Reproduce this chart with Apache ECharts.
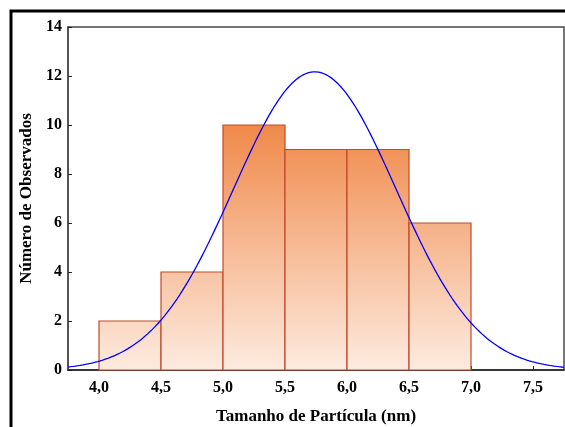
<!DOCTYPE html>
<html>
<head>
<meta charset="utf-8">
<script src="https://cdn.jsdelivr.net/npm/echarts@6/dist/echarts.min.js"></script>
<style>
  html, body { margin: 0; padding: 0; background: #fff; }
  #chart { width: 565px; height: 427px; }
</style>
</head>
<body>
<div id="chart"></div>
<script>
// Histogram bins (particle size, nm) and observed counts
const binStarts = [4.0, 4.5, 5.0, 5.5, 6.0, 6.5];
const binWidth = 0.5;
const counts = [2, 4, 10, 9, 9, 6];

// Axis ticks
const xTicks = [4.0, 4.5, 5.0, 5.5, 6.0, 6.5, 7.0, 7.5];
const yTicks = [0, 2, 4, 6, 8, 10, 12, 14];

// Fitted normal curve parameters (expected counts per bin)
const fitMean = 5.74;
const fitSd = 0.656;
const fitPeak = 12.17;
const curveStep = 0.02;

const xMin = 3.75, xMax = 7.75;

const normalFit = [];
for (let x = xMin; x <= xMax + 1e-9; x += curveStep) {
  const z = (x - fitMean) / fitSd;
  normalFit.push([+x.toFixed(3), fitPeak * Math.exp(-0.5 * z * z)]);
}

const FONT = '"Liberation Serif", "Times New Roman", serif';
const chart = echarts.init(document.getElementById('chart'), null, { renderer: 'canvas' });

function barFill(yTop, yBottom) {
  return new echarts.graphic.LinearGradient(0, yTop, 0, yBottom, [
    { offset: 0, color: '#F0894A' },
    { offset: 1, color: '#FDEBE0' }
  ], true);
}

const option = {
  animation: false,
  backgroundColor: '#fff',
  grid: {
    left: 68, top: 27, right: 1, bottom: 57,
    outerBoundsMode: 'none',
    show: true, borderColor: '#4a4a4a', borderWidth: 1.5, backgroundColor: 'transparent'
  },
  graphic: [{
    type: 'rect',
    shape: { x: 11, y: 11, width: 700, height: 600 },
    style: { fill: 'none', stroke: '#000', lineWidth: 3 },
    silent: true, z: 100
  }],
  xAxis: {
    type: 'value', min: xMin, max: xMax,
    name: 'Tamanho de Partícula (nm)', nameLocation: 'middle', nameGap: 38,
    nameTextStyle: { fontFamily: FONT, fontWeight: 'bold', fontSize: 17, color: '#000' },
    splitLine: { show: false },
    axisLine: { lineStyle: { color: '#222', width: 1.5 } },
    axisTick: { inside: true, length: 4, customValues: xTicks, lineStyle: { color: '#222' } },
    axisLabel: {
      customValues: xTicks, margin: 10,
      fontFamily: FONT, fontWeight: 'bold', fontSize: 16, color: '#000',
      formatter: v => v.toFixed(1).replace('.', ',')
    }
  },
  yAxis: {
    type: 'value', min: yTicks[0], max: yTicks[yTicks.length - 1], interval: 2,
    name: 'Número de Observados', nameLocation: 'middle', nameGap: 32,
    nameTextStyle: { fontFamily: FONT, fontWeight: 'bold', fontSize: 17, color: '#000' },
    splitLine: { show: false },
    axisLine: { show: true, lineStyle: { color: '#4a4a4a', width: 1.5 } },
    axisTick: { show: true, inside: true, length: 4, lineStyle: { color: '#222' } },
    axisLabel: { margin: 6, fontFamily: FONT, fontWeight: 'bold', fontSize: 16, color: '#000' }
  },
  series: [
    {
      type: 'custom',
      data: binStarts.map((s, i) => [s, s + binWidth, counts[i]]),
      renderItem: function (params, api) {
        const p0 = api.coord([api.value(0), api.value(2)]);
        const p1 = api.coord([api.value(1), 0]);
        const top10 = api.coord([xMin, 10])[1];
        const bottom = p1[1];
        return {
          type: 'rect',
          shape: { x: p0[0], y: p0[1], width: p1[0] - p0[0], height: p1[1] - p0[1] },
          style: { fill: barFill(top10, bottom), stroke: '#C04A2C', lineWidth: 1.2 }
        };
      },
      z: 2
    },
    {
      type: 'line',
      data: normalFit,
      showSymbol: false,
      smooth: false,
      lineStyle: { color: '#0000FF', width: 1.3 },
      z: 3
    }
  ]
};

chart.setOption(option);
</script>
</body>
</html>
